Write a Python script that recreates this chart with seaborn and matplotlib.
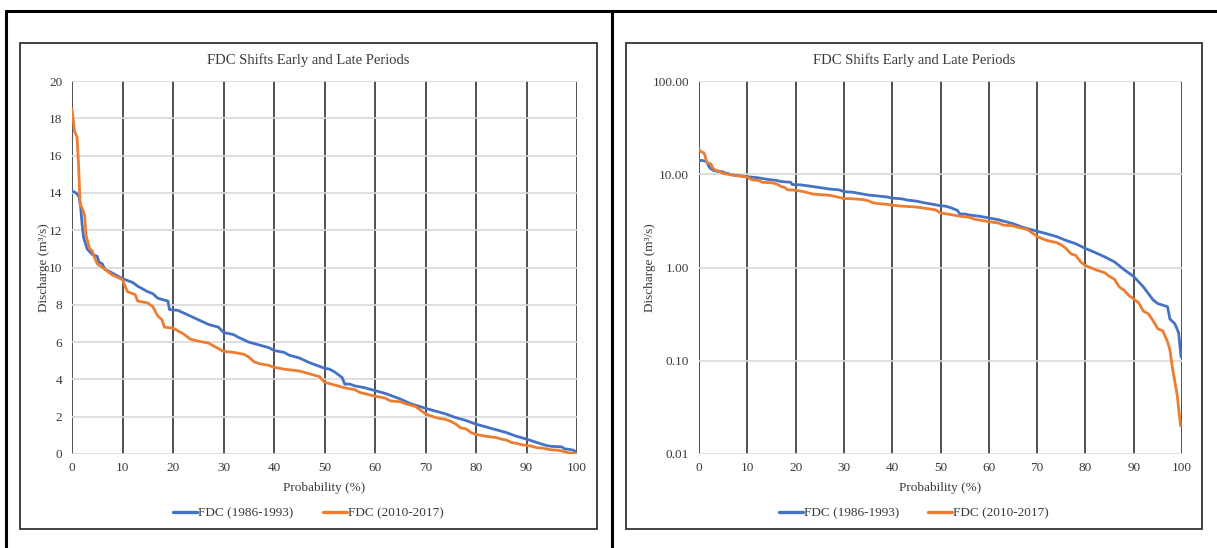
import numpy as np
import pandas as pd
import matplotlib
matplotlib.use("Agg")
import matplotlib.pyplot as plt
import seaborn as sns
from matplotlib.lines import Line2D
from matplotlib.patches import Rectangle
from matplotlib.ticker import FixedLocator, NullLocator

# Flow duration curve
p_early = [0, 0.8, 1.4, 1.7, 2.0, 2.3, 3.0, 4.0, 5.0, 5.3, 6.0, 6.5, 8.0, 10.0, 12.0, 13.0,
           15.0, 16.0, 17.0, 19.0, 19.3, 21.0, 23.0, 25.0, 27.0, 29.0, 30.0, 32.0, 33.0,
           35.0, 37.0, 39.0, 40.0, 42.0, 43.0, 45.0, 47.0, 48.0, 50.0, 51.0, 52.0, 53.5,
           54.0, 55.0, 56.0, 58.0, 60.0, 62.0, 64.0, 65.0, 67.0, 70.0, 72.0, 74.0, 76.0,
           78.0, 80.0, 82.0, 84.0, 86.0, 88.0, 90.0, 92.0, 94.0, 95.0, 97.0, 97.5, 98.5,
           99.3, 99.8]
q_early = [14.1, 14.0, 13.8, 13.3, 12.3, 11.6, 11.0, 10.7, 10.6, 10.3, 10.2, 9.9, 9.7, 9.4,
           9.2, 9.0, 8.7, 8.6, 8.35, 8.2, 7.75, 7.7, 7.45, 7.2, 6.95, 6.8, 6.52, 6.4, 6.25,
           6.0, 5.85, 5.7, 5.55, 5.45, 5.3, 5.15, 4.9, 4.8, 4.6, 4.55, 4.4, 4.1, 3.75, 3.75,
           3.65, 3.55, 3.4, 3.25, 3.05, 2.95, 2.7, 2.45, 2.3, 2.15, 1.95, 1.8, 1.6, 1.45,
           1.3, 1.15, 0.95, 0.8, 0.62, 0.45, 0.41, 0.38, 0.28, 0.25, 0.2, 0.11]

p_late = [0, 0.5, 1.0, 1.3, 1.6, 2.0, 2.5, 2.8, 3.5, 4.0, 4.5, 5.0, 6.5, 8.0, 10.0, 10.5,
          11.0, 12.5, 13.0, 15.0, 16.0, 17.0, 17.8, 18.3, 20.0, 21.0, 22.0, 23.5, 25.0,
          27.0, 28.0, 30.0, 32.0, 34.0, 35.0, 36.0, 37.0, 39.0, 40.0, 42.0, 45.0, 47.0,
          49.0, 50.0, 52.0, 54.0, 56.0, 57.0, 60.0, 62.0, 63.0, 65.0, 66.0, 68.0, 69.0,
          70.0, 72.0, 74.0, 75.0, 76.0, 77.0, 78.0, 79.0, 80.0, 82.0, 84.0, 85.0, 86.0,
          87.0, 88.0, 89.0, 90.0, 91.0, 92.0, 93.0, 94.0, 95.0, 96.0, 97.0, 97.5, 98.0,
          99.0, 99.7]
q_late = [18.5, 17.3, 17.0, 15.5, 13.4, 13.2, 12.8, 11.7, 11.0, 10.9, 10.5, 10.2, 9.9, 9.6,
          9.35, 9.0, 8.7, 8.55, 8.2, 8.1, 7.9, 7.4, 7.2, 6.8, 6.75, 6.6, 6.45, 6.15, 6.05,
          5.95, 5.8, 5.5, 5.45, 5.35, 5.2, 4.95, 4.85, 4.75, 4.65, 4.55, 4.45, 4.3, 4.15,
          3.85, 3.7, 3.55, 3.45, 3.3, 3.1, 3.0, 2.85, 2.8, 2.7, 2.55, 2.35, 2.15, 1.95,
          1.85, 1.75, 1.6, 1.4, 1.35, 1.15, 1.05, 0.95, 0.88, 0.8, 0.75, 0.62, 0.57, 0.5,
          0.46, 0.42, 0.34, 0.32, 0.27, 0.22, 0.21, 0.16, 0.13, 0.085, 0.043, 0.02]

series_names = ["FDC (1986-1993)", "FDC (2010-2017)"]
series_colors = ["#4472C4", "#ED7D31"]
x_ticks = list(range(0, 101, 10))
lin_ticks = list(range(0, 21, 2))
log_ticks = [0.01, 0.1, 1, 10, 100]

df = pd.concat([
    pd.DataFrame({"p": p_early, "q": q_early, "series": series_names[0]}),
    pd.DataFrame({"p": p_late, "q": q_late, "series": series_names[1]}),
], ignore_index=True)

sns.set_theme(style="white")
plt.rcParams["font.family"] = ["Liberation Serif", "DejaVu Serif"]
text_color = "#3a3a3a"

fig = plt.figure(figsize=(12.17, 5.48), dpi=100)
W, H = 1217.0, 548.0


def fx(px):
    return px / W


def fy(py):
    return 1 - py / H


# outer table frame
for line in [
    Line2D([fx(6), 1.0], [fy(11), fy(11)]),
    Line2D([fx(6), fx(6)], [fy(11), 0]),
    Line2D([fx(612), fx(612)], [fy(11), 0]),
]:
    line.set_color("black")
    line.set_linewidth(2.2)
    line.set_transform(fig.transFigure)
    fig.add_artist(line)

panels = [
    # box left, box right, axes left, axes right, log scale, ylabel x
    (20, 597, 72, 577, False, -0.044),
    (626, 1202, 699, 1182, True, -0.090),
]

for box_l, box_r, ax_l, ax_r, use_log, ylab_x in panels:
    fig.add_artist(Rectangle((fx(box_l), fy(529)), fx(box_r - box_l), (529 - 43) / H,
                             transform=fig.transFigure, fill=False, edgecolor="#222222",
                             linewidth=1.2))
    ax = fig.add_axes([fx(ax_l), fy(454), fx(ax_r - ax_l), (454 - 81) / H])
    sns.lineplot(data=df, x="p", y="q", hue="series", palette=series_colors,
                 hue_order=series_names, estimator=None, sort=False, linewidth=2.0,
                 legend=False, ax=ax)

    ax.set_xlim(0, 100)
    ax.xaxis.set_major_locator(FixedLocator(x_ticks))
    if use_log:
        ax.set_yscale("log")
        ax.set_ylim(0.01, 100)
        ax.yaxis.set_major_locator(FixedLocator(log_ticks))
        ax.set_yticklabels([f"{t:.2f}" for t in log_ticks])
        ax.yaxis.set_minor_locator(NullLocator())
    else:
        ax.set_ylim(0, 20)
        ax.yaxis.set_major_locator(FixedLocator(lin_ticks))

    ax.set_axisbelow(True)
    ax.grid(axis="y", color="#d9d9d9", linewidth=1.2)
    ax.grid(axis="x", color="#333333", linewidth=1.2)
    for s in ax.spines.values():
        s.set_visible(False)
    ax.tick_params(length=0, labelsize=9.5, colors=text_color)
    ax.tick_params(axis="y", pad=7)
    ax.tick_params(axis="x", pad=6)

    ax.set_xlabel("Probability (%)", fontsize=9.5, color=text_color)
    ax.set_ylabel("Discharge (m\u00b3/s)", fontsize=9.5, color=text_color)
    ax.xaxis.set_label_coords(0.5, -0.075)
    ax.yaxis.set_label_coords(ylab_x, 0.5)

    cx = fx((box_l + box_r) / 2)
    fig.text(cx, fy(60), "FDC Shifts Early and Late Periods", ha="center", va="center",
             fontsize=10.5, color=text_color)

    handles = [Line2D([0], [0], color=c, linewidth=2.4) for c in series_colors]
    fig.legend(handles, series_names, loc="center", bbox_to_anchor=(cx, fy(513)),
               ncol=2, frameon=False, fontsize=9.5, handlelength=1.8, handletextpad=0.1,
               columnspacing=2.2, labelcolor=text_color)

fig.savefig("out.png", dpi=100)
